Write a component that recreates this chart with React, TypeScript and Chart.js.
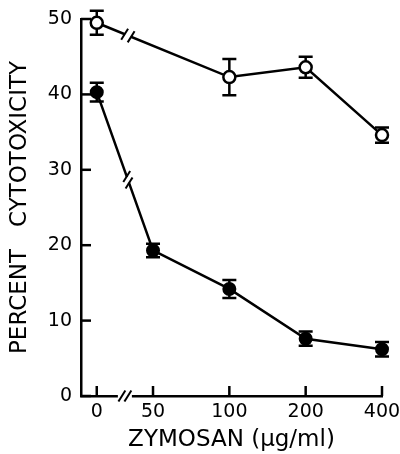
import React, { useEffect, useRef } from 'react';
import { Chart, registerables } from 'chart.js';
Chart.register(...registerables);

// Dose categories (µg/ml); zero dose is drawn before the axis break on a log axis
const doseLabels = ['0', '50', '100', '200', '400'];
const dosePlotPositions = [30, 50, 100, 200, 400];

// Open circles
const openDoseIdx = [0, 2, 3, 4];
const openMeans = [49.5, 42.3, 43.6, 34.6];
const openErrors = [1.6, 2.4, 1.4, 1.0];

// Filled circles
const filledDoseIdx = [0, 1, 2, 3, 4];
const filledMeans = [40.3, 19.3, 14.2, 7.6, 6.2];
const filledErrors = [1.25, 0.9, 1.2, 0.95, 0.95];

const yTicks = [0, 10, 20, 30, 40, 50];

const FONT = '"DejaVu Sans", sans-serif';

function pairs(idx: number[], vals: number[]) {
  return idx.map((k, i) => ({ x: dosePlotPositions[k], y: vals[i] }));
}

const breakX = (chart: any) => {
  const xs = chart.scales.x;
  return (xs.getPixelForValue(dosePlotPositions[0]) + xs.getPixelForValue(dosePlotPositions[1])) / 2;
};

function slash(ctx: CanvasRenderingContext2D, cx: number, cy: number, len: number) {
  const a = (58 * Math.PI) / 180;
  const dx = (Math.cos(a) * len) / 2;
  const dy = (Math.sin(a) * len) / 2;
  ctx.beginPath();
  ctx.moveTo(cx - dx, cy + dy);
  ctx.lineTo(cx + dx, cy - dy);
  ctx.stroke();
}

const customPlugin = {
  id: 'custom',
  beforeDatasetsDraw(chart: any) {
    const ctx = chart.ctx as CanvasRenderingContext2D;
    const xs = chart.scales.x;
    const ys = chart.scales.y;
    ctx.save();
    ctx.strokeStyle = '#000';
    ctx.lineWidth = 2.5;
    const area = chart.chartArea;
    dosePlotPositions.forEach((v) => {
      const px = xs.getPixelForValue(v);
      ctx.beginPath();
      ctx.moveTo(px, area.bottom);
      ctx.lineTo(px, area.bottom - 10);
      ctx.stroke();
    });
    yTicks.forEach((v) => {
      const py = ys.getPixelForValue(v);
      ctx.beginPath();
      ctx.moveTo(area.left, py);
      ctx.lineTo(area.left + 10, py);
      ctx.stroke();
    });
    const bx = breakX(chart);
    ctx.fillStyle = '#fff';
    ctx.fillRect(bx - 7, area.bottom - 3, 14, 6);
    ctx.lineWidth = 2;
    slash(ctx, bx - 3, area.bottom, 13);
    slash(ctx, bx + 3, area.bottom, 13);
    ctx.lineWidth = 2.5;
    chart.data.datasets.forEach((ds: any) => {
      ds.data.forEach((pt: any, i: number) => {
        const e = ds.errors[i];
        const px = xs.getPixelForValue(pt.x);
        const t = ys.getPixelForValue(pt.y + e);
        const b = ys.getPixelForValue(pt.y - e);
        ctx.beginPath();
        ctx.moveTo(px, t);
        ctx.lineTo(px, b);
        ctx.moveTo(px - 7, t);
        ctx.lineTo(px + 7, t);
        ctx.moveTo(px - 7, b);
        ctx.lineTo(px + 7, b);
        ctx.stroke();
      });
    });
    ctx.restore();
  },
  afterDatasetsDraw(chart: any) {
    const ctx = chart.ctx as CanvasRenderingContext2D;
    const xs = chart.scales.x;
    const ys = chart.scales.y;
    const bx = breakX(chart);
    ctx.save();
    chart.data.datasets.forEach((ds: any) => {
      const p0 = ds.data[0];
      const p1 = ds.data[1];
      const x0 = xs.getPixelForValue(p0.x), y0 = ys.getPixelForValue(p0.y);
      const x1 = xs.getPixelForValue(p1.x), y1 = ys.getPixelForValue(p1.y);
      const t = (bx + 3 - x0) / (x1 - x0);
      const cx = x0 + t * (x1 - x0);
      const cy = y0 + t * (y1 - y0);
      const L = Math.hypot(x1 - x0, y1 - y0);
      const dx = (x1 - x0) / L, dy = (y1 - y0) / L;
      ctx.strokeStyle = '#fff';
      ctx.lineWidth = 6;
      ctx.beginPath();
      ctx.moveTo(cx - dx * 3, cy - dy * 3);
      ctx.lineTo(cx + dx * 3, cy + dy * 3);
      ctx.stroke();
      ctx.strokeStyle = '#000';
      ctx.lineWidth = 2;
      slash(ctx, cx - dx * 3.5, cy - dy * 3.5, 13);
      slash(ctx, cx + dx * 3.5, cy + dy * 3.5, 13);
    });
    ctx.restore();
  },
};

export default function App() {
  const ref = useRef<HTMLCanvasElement | null>(null);
  useEffect(() => {
    if (!ref.current) return;
    const chart = new Chart(ref.current, {
      type: 'line',
      data: {
        datasets: [
          {
            data: pairs(openDoseIdx, openMeans),
            errors: openErrors,
            borderColor: '#000',
            borderWidth: 2.5,
            pointRadius: 6,
            pointBorderWidth: 2.5,
            pointBackgroundColor: '#fff',
            pointBorderColor: '#000',
            tension: 0,
            clip: false,
          } as any,
          {
            data: pairs(filledDoseIdx, filledMeans),
            errors: filledErrors,
            borderColor: '#000',
            borderWidth: 2.5,
            pointRadius: 6,
            pointBorderWidth: 2,
            pointBackgroundColor: '#000',
            pointBorderColor: '#000',
            tension: 0,
            clip: false,
          } as any,
        ],
      },
      options: {
        animation: false,
        responsive: false,
        layout: { padding: { top: 19, right: 18, left: 0, bottom: 0 } },
        plugins: { legend: { display: false }, tooltip: { enabled: false } },
        scales: {
          x: {
            type: 'logarithmic',
            min: 26,
            max: 400,
            grid: { display: false, drawTicks: false },
            border: { display: true, color: '#000', width: 2.5 },
            afterBuildTicks: (s: any) => {
              s.ticks = dosePlotPositions.map((v) => ({ value: v }));
            },
            afterFit: (s: any) => {
              s.height = 58;
              s.paddingLeft = 0;
              s.paddingRight = 0;
            },
            ticks: {
              autoSkip: false,
              maxRotation: 0,
              padding: 5,
              color: '#000',
              font: { family: FONT, size: 19 },
              callback: (_v: any, i: number) => doseLabels[i],
            },
            title: {
              display: true,
              text: 'ZYMOSAN (µg/ml)',
              color: '#000',
              font: { family: FONT, size: 23 },
              padding: { top: 0, bottom: 0 },
            },
          },
          y: {
            min: 0,
            max: 50,
            grid: { display: false, drawTicks: false },
            border: { display: true, color: '#000', width: 2.5 },
            afterBuildTicks: (s: any) => {
              s.ticks = yTicks.map((v) => ({ value: v }));
            },
            afterFit: (s: any) => {
              s.width = 81;
              s.paddingTop = 0;
              s.paddingBottom = 0;
            },
            ticks: {
              padding: 9,
              color: '#000',
              font: { family: FONT, size: 19 },
            },
            title: {
              display: true,
              text: 'PERCENT   CYTOTOXICITY',
              color: '#000',
              font: { family: FONT, size: 23 },
              padding: { top: 6, bottom: 0 },
            },
          },
        },
      },
      plugins: [customPlugin],
    } as any);
    return () => chart.destroy();
  }, []);
  return (
    <div style={{ position: 'fixed', left: 0, top: 0, width: 400, height: 454, background: '#fff' }}>
      <canvas ref={ref} width={400} height={454} />
    </div>
  );
}
